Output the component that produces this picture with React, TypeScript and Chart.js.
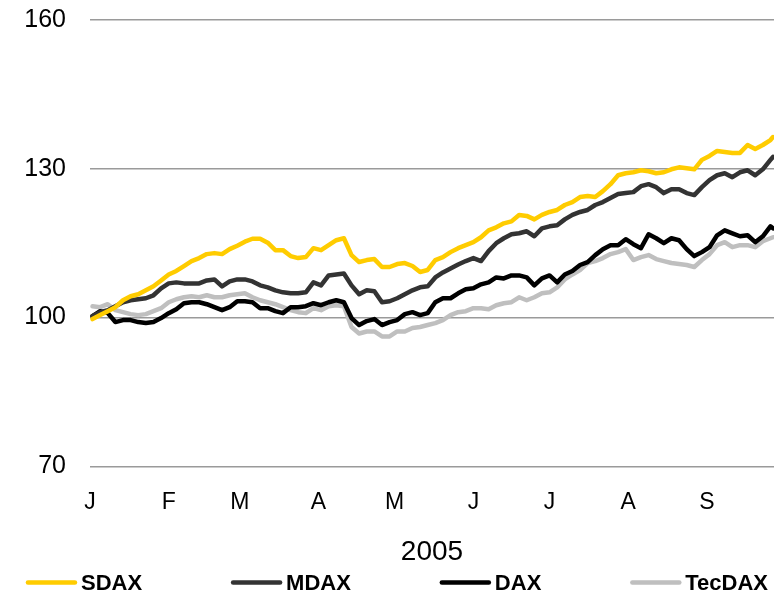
import React, { useEffect, useRef } from "react";
import { Chart, registerables } from "chart.js";

Chart.register(...registerables);

// Calendar day of 2005 (0 = 1 Jan) for each sample
const days = [
  1, 4, 7, 10, 13, 16, 19, 22, 25, 28,
  31, 34, 37, 40, 43, 46, 49, 52, 55, 58,
  61, 64, 67, 70, 73, 76, 79, 82, 85, 88,
  91, 94, 97, 100, 103, 106, 109, 112, 115, 118,
  121, 124, 127, 130, 133, 136, 139, 142, 145, 148,
  151, 154, 157, 160, 163, 166, 169, 172, 175, 178,
  181, 184, 187, 190, 193, 196, 199, 202, 205, 208,
  211, 214, 217, 220, 223, 226, 229, 232, 235, 238,
  241, 244, 247, 250, 253, 256, 259, 262, 265, 268, 269,
];

const sdax = [
  99.7, 100.5, 101.3, 102.1, 103.5, 104.3, 104.7, 105.5, 106.3, 107.5,
  108.7, 109.4, 110.4, 111.4, 112.0, 112.8, 113.0, 112.8, 113.8, 114.5,
  115.3, 115.9, 115.9, 115.1, 113.6, 113.6, 112.4, 112.0, 112.2, 114.0,
  113.6, 114.6, 115.6, 116.0, 112.6, 111.2, 111.6, 111.8, 110.2, 110.2,
  110.8, 111.0, 110.4, 109.2, 109.6, 111.6, 112.2, 113.2, 114.0, 114.6,
  115.2, 116.2, 117.6, 118.2, 119.0, 119.4, 120.7, 120.5, 119.8, 120.7,
  121.3, 121.7, 122.7, 123.3, 124.3, 124.5, 124.3, 125.5, 126.9, 128.7,
  129.1, 129.3, 129.7, 129.5, 129.1, 129.3, 129.9, 130.3, 130.1, 129.9,
  131.8, 132.6, 133.6, 133.4, 133.2, 133.2, 134.8, 134.0, 134.8, 135.8, 136.4,
];

const mdax = [
  100.3, 101.1, 101.5, 102.3, 103.1, 103.5, 103.7, 103.9, 104.5, 105.9,
  106.9, 107.1, 106.9, 106.9, 106.9, 107.5, 107.7, 106.3, 107.3, 107.7,
  107.7, 107.3, 106.5, 106.1, 105.5, 105.1, 104.9, 104.9, 105.1, 107.1,
  106.5, 108.5, 108.7, 108.9, 106.5, 104.7, 105.5, 105.3, 103.1, 103.3,
  103.9, 104.7, 105.5, 106.1, 106.3, 108.1, 109.1, 109.9, 110.7, 111.4,
  112.0, 111.4, 113.4, 115.0, 116.0, 116.8, 117.0, 117.4, 116.4, 118.0,
  118.4, 118.6, 119.8, 120.7, 121.3, 121.7, 122.7, 123.3, 124.1, 124.9,
  125.1, 125.3, 126.5, 126.9, 126.3, 125.1, 125.9, 125.9, 125.1, 124.7,
  126.3, 127.7, 128.7, 129.1, 128.3, 129.3, 129.7, 128.7, 129.9, 131.8, 132.4,
];

const dax = [
  100.3, 101.3, 100.9, 99.1, 99.5, 99.5, 99.1, 98.9, 99.1, 99.9,
  100.9, 101.7, 102.9, 103.1, 103.1, 102.7, 102.1, 101.5, 102.1, 103.3,
  103.3, 103.1, 101.9, 101.9, 101.3, 100.9, 102.1, 102.1, 102.3, 102.9,
  102.5, 103.1, 103.5, 103.1, 99.9, 98.5, 99.3, 99.7, 98.5, 99.1,
  99.5, 100.7, 101.1, 100.5, 100.9, 103.1, 103.9, 103.9, 104.9, 105.7,
  105.9, 106.7, 107.1, 108.1, 107.9, 108.5, 108.5, 108.1, 106.5, 107.9,
  108.5, 107.1, 108.7, 109.4, 110.6, 111.2, 112.6, 113.8, 114.6, 114.6,
  115.8, 114.8, 114.0, 116.8, 116.0, 115.0, 116.0, 115.6, 113.8, 112.4,
  113.2, 114.2, 116.6, 117.6, 117.0, 116.4, 116.6, 115.2, 116.4, 118.4, 118.0,
];

const tecdax = [
  102.3, 102.1, 102.7, 101.5, 101.1, 100.7, 100.5, 100.7, 101.3, 101.9,
  103.1, 103.7, 104.1, 104.3, 104.1, 104.5, 104.1, 104.1, 104.5, 104.7,
  104.9, 104.1, 103.5, 103.1, 102.7, 102.1, 101.5, 101.1, 100.9, 101.9,
  101.5, 102.3, 102.5, 102.3, 98.1, 96.8, 97.2, 97.2, 96.2, 96.2,
  97.2, 97.2, 97.9, 98.1, 98.5, 98.9, 99.5, 100.5, 101.1, 101.3,
  101.9, 101.9, 101.7, 102.5, 102.9, 103.1, 104.1, 103.5, 104.1, 104.9,
  105.1, 106.1, 107.7, 108.7, 109.6, 111.0, 111.4, 112.0, 112.8, 113.2,
  113.8, 111.6, 112.2, 112.6, 111.8, 111.4, 111.0, 110.8, 110.6, 110.2,
  111.6, 112.8, 114.6, 115.2, 114.2, 114.6, 114.6, 114.2, 115.4, 116.0, 116.2,
];

const seriesNames = ["SDAX", "MDAX", "DAX", "TecDAX"];
const seriesColors = ["#FFCC00", "#333333", "#000000", "#BFBFBF"];

const monthStarts = [0, 31, 59, 90, 120, 151, 181, 212, 243];
const monthLabels = ["J", "F", "M", "A", "M", "J", "J", "A", "S"];
const yearLabel = "2005";
const yTicks = [70, 100, 130, 160];

const FONT = "'Liberation Sans', Arial, Helvetica, sans-serif";

const bottomLegend = {
  id: "bottomLegend",
  afterDraw(chart: any) {
    const ctx = chart.ctx as CanvasRenderingContext2D;
    ctx.save();
    ctx.font = `bold 22px ${FONT}`;
    ctx.textBaseline = "middle";
    ctx.textAlign = "left";
    const sample = 51;
    const textGap = 4;
    const itemGap = 89;
    const items = chart.data.datasets.map((ds: any) => ({
      label: ds.label as string,
      color: ds.borderColor as string,
      w: ctx.measureText(ds.label).width,
    }));
    const total =
      items.reduce((s: number, it: any) => s + sample + textGap + it.w, 0) +
      itemGap * (items.length - 1);
    let x = 397 - total / 2;
    const y = 582.5;
    items.forEach((it: any) => {
      ctx.strokeStyle = it.color;
      ctx.lineWidth = 4.5;
      ctx.lineCap = "round";
      ctx.beginPath();
      ctx.moveTo(x + 2, y);
      ctx.lineTo(x + sample - 2, y);
      ctx.stroke();
      ctx.fillStyle = "#000";
      ctx.fillText(it.label, x + sample + textGap, y + 1);
      x += sample + textGap + it.w + itemGap;
    });
    ctx.restore();
  },
};

export default function App() {
  const ref = useRef<HTMLCanvasElement | null>(null);

  useEffect(() => {
    if (!ref.current) return;
    const allSeries = [sdax, mdax, dax, tecdax];
    const chart = new Chart(ref.current, {
      type: "line",
      data: {
        datasets: allSeries.map((vals, si) => ({
          label: seriesNames[si],
          data: days.map((d, i) => ({ x: d, y: vals[i] })),
          borderColor: seriesColors[si],
          backgroundColor: seriesColors[si],
          borderWidth: 4.5,
          pointRadius: 0,
          tension: 0,
          borderJoinStyle: "round" as const,
          borderCapStyle: "round" as const,
          fill: false,
        })),
      },
      options: {
        animation: false,
        responsive: false,
        events: [],
        layout: { padding: { top: 20, bottom: 28, left: 0, right: 0 } },
        plugins: {
          legend: { display: false },
          tooltip: { enabled: false },
        },
        scales: {
          x: {
            type: "linear",
            min: 0,
            max: 269.4,
            grid: { display: false, drawTicks: false },
            border: { display: false },
            afterBuildTicks: (scale: any) => {
              scale.ticks = monthStarts.map((v) => ({ value: v }));
            },
            ticks: {
              autoSkip: false,
              maxRotation: 0,
              padding: 22,
              color: "#000",
              font: { family: FONT, size: 23 },
              callback: (_v: any, i: number) => monthLabels[i],
            },
            title: {
              display: true,
              text: yearLabel,
              color: "#000",
              font: { family: FONT, size: 28, lineHeight: 1 },
              padding: { top: 0, bottom: 0 },
            },
          },
          y: {
            min: yTicks[0],
            max: yTicks[yTicks.length - 1],
            afterBuildTicks: (scale: any) => {
              scale.ticks = yTicks.map((v) => ({ value: v }));
            },
            afterFit: (scale: any) => {
              scale.width = 90;
            },
            grid: {
              color: "#9a9a9a",
              lineWidth: 1.5,
              drawTicks: true,
              tickLength: 24,
              tickColor: "rgba(0,0,0,0)",
            },
            border: { display: false },
            ticks: {
              padding: 0,
              color: "#000",
              font: { family: FONT, size: 25 },
            },
          },
        },
      },
      plugins: [bottomLegend],
    });
    return () => chart.destroy();
  }, []);

  return (
    <div style={{ position: "fixed", left: 0, top: 0, width: 774, height: 594, background: "#fff" }}>
      <canvas ref={ref} width={774} height={594} style={{ display: "block", width: 774, height: 594 }} />
    </div>
  );
}
